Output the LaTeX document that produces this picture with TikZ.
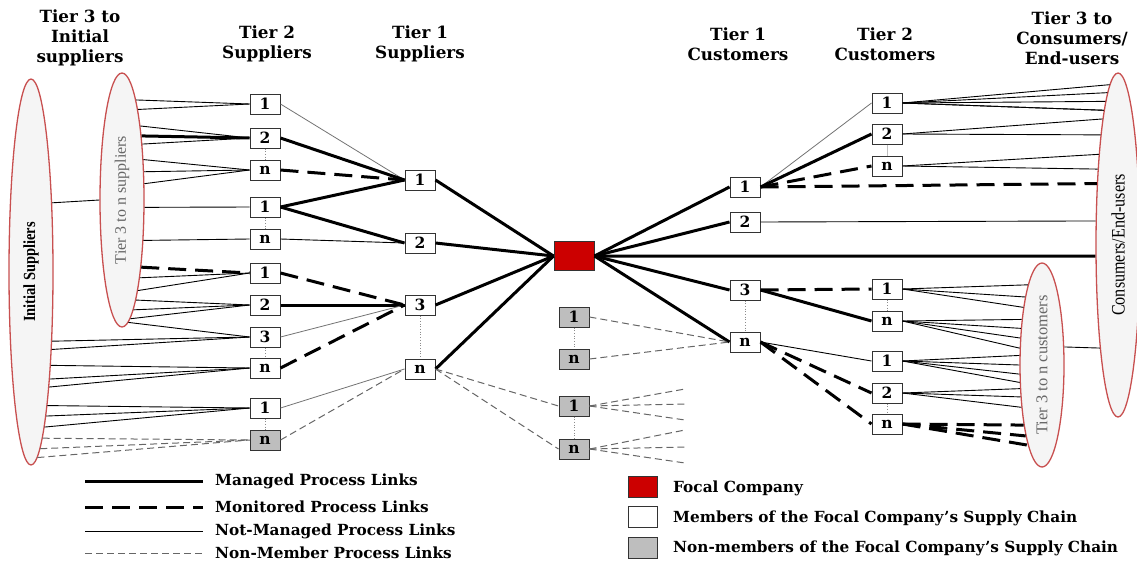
\documentclass[tikz,border=0pt]{standalone}
\usepackage{fontspec}
\setmainfont{DejaVu Serif}
\newfontfamily\ellfont{Liberation Serif}
\newfontfamily\narrowfont[FakeStretch=0.85]{Liberation Serif}
\usepackage{tikz}
\usetikzlibrary{shapes,arrows,calc,positioning}
\definecolor{focalred}{RGB}{204,0,0}
\definecolor{chainred}{RGB}{200,80,80}
\definecolor{nongray}{RGB}{190,190,190}
\tikzstyle{member}=[rectangle,draw=black!80,fill=white,line width=1pt,minimum width=30pt,minimum height=20pt,inner sep=0pt,font=\fontsize{15.5}{15.5}\selectfont\bfseries]
\tikzstyle{nonmember}=[member,fill=nongray]
\tikzstyle{focalbox}=[rectangle,draw=black!80,fill=focalred,line width=1pt,minimum width=40pt,minimum height=29pt]
\tikzstyle{chainell}=[ellipse,draw=chainred,line width=1.3pt,fill=black!4,minimum width=44pt,inner sep=0pt]
\tikzstyle{managed}=[line width=3pt]
\tikzstyle{monitored}=[line width=3pt,dash pattern=on 18pt off 9pt]
\tikzstyle{notmanaged}=[line width=0.9pt]
\tikzstyle{faint}=[line width=0.8pt,black!55]
\tikzstyle{nonlink}=[line width=1pt,black!60,dash pattern=on 7pt off 4pt]
\tikzstyle{tierdots}=[black!45,line width=0.7pt,dotted]
\tikzstyle{header}=[align=center,font=\fontsize{16.8}{19.8}\selectfont\bfseries]
\tikzstyle{legendtext}=[anchor=west,inner sep=0pt,font=\fontsize{15.3}{16}\selectfont\bfseries]

\begin{document}
\begin{tikzpicture}[x=1pt,y=-1pt]
  \useasboundingbox (0,0) rectangle (1137,563);

  \node[header] (hinit) at (80,38) {Tier 3 to\\Initial\\suppliers};
  \node[header] (hsup2) at (267,44) {Tier 2\\Suppliers};
  \node[header] (hsup1) at (420,44) {Tier 1\\Suppliers};
  \node[header] (hcus1) at (738,44) {Tier 1\\Customers};
  \node[header] (hcus2) at (885,44) {Tier 2\\Customers};
  \node[header] (hcons) at (1072,38) {Tier 3 to\\Consumers/\\End-users};

  \node[chainell,minimum height=386pt] (init) at (31,272) {};
  \node[rotate=90,font=\narrowfont\fontsize{17}{17}\selectfont\bfseries] (inittxt) at (init) {Initial Suppliers};
  \node[chainell,minimum height=254pt] (tiersup) at (122,200) {};
  \node[rotate=90,text=black!60,font=\ellfont\fontsize{16}{16}\selectfont] (tiersuptxt) at (tiersup) {Tier 3 to n suppliers};
  \node[chainell,minimum height=344pt] (cons) at (1118,245) {};
  \node[rotate=90,font=\narrowfont\fontsize{19}{19}\selectfont] (constxt) at (cons) {Consumers/End-users};
  \node[chainell,minimum height=204pt] (tiercus) at (1042,365) {};
  \node[rotate=90,text=black!60,font=\ellfont\fontsize{16.5}{16}\selectfont] (tiercustxt) at (tiercus) {Tier 3 to n customers};

  \node[member] (tsa) at (265,104) {1};
  \node[member] (tsb) at (265,138) {2};
  \node[member] (tsc) at (265,170) {n};
  \node[member] (tsd) at (265,207) {1};
  \node[member] (tse) at (265,239) {n};
  \node[member] (tsf) at (265,273) {1};
  \node[member] (tsg) at (265,305) {2};
  \node[member] (tsh) at (265,337) {3};
  \node[member] (tsi) at (265,368) {n};
  \node[member] (tsj) at (265,408) {1};
  \node[nonmember] (tsk) at (265,440) {n};

  \node[member] (fsa) at (420,180) {1};
  \node[member] (fsb) at (420,243) {2};
  \node[member] (fsc) at (420,305) {3};
  \node[member] (fsd) at (420,369) {n};

  \node[focalbox] (focal) at (574,256) {};
  \node[nonmember] (nma) at (574,317) {1};
  \node[nonmember] (nmb) at (574,359) {n};
  \node[nonmember] (nmc) at (574,406) {1};
  \node[nonmember] (nmd) at (574,449) {n};

  \node[member] (fca) at (745,187) {1};
  \node[member] (fcb) at (745,222) {2};
  \node[member] (fcc) at (745,290) {3};
  \node[member] (fcd) at (745,342) {n};

  \node[member] (tca) at (887,103) {1};
  \node[member] (tcb) at (887,134) {2};
  \node[member] (tcc) at (887,166) {n};
  \node[member] (tcd) at (887,289) {1};
  \node[member] (tce) at (887,321) {n};
  \node[member] (tcf) at (887,361) {1};
  \node[member] (tcg) at (887,393) {2};
  \node[member] (tch) at (887,424) {n};

  \coordinate (ea) at (685,389);
  \coordinate (eb) at (685,404);
  \coordinate (ec) at (685,420);
  \coordinate (ed) at (685,430);
  \coordinate (ee) at (685,447);
  \coordinate (ef) at (685,463);

  \draw[tierdots] (tsb.south) -- (tsc.north);
  \draw[tierdots] (tsd.south) -- (tse.north);
  \draw[tierdots] (tsh.south) -- (tsi.north);
  \draw[tierdots] (tsj.south) -- (tsk.north);
  \draw[tierdots] (fsc.south) -- (fsd.north);
  \draw[tierdots] (nma.south) -- (nmb.north);
  \draw[tierdots] (nmc.south) -- (nmd.north);
  \draw[tierdots] (fcc.south) -- (fcd.north);
  \draw[tierdots,solid,black!25] (tcb.south) -- (tcc.north);
  \draw[tierdots] (tcd.south) -- (tce.north);
  \draw[tierdots] (tcg.south) -- (tch.north);

  \draw[notmanaged] (init.73.9) -- (tiersup.west);
  \draw[notmanaged] (tiercus.39.7) -- (cons.260.2);

  \foreach \a in {82.5,80} \draw[notmanaged] (tiersup.\a) -- (tsa.west);
  \foreach \a in {76.4,70.2} \draw[notmanaged] (tiersup.\a) -- (tsb.west);
  \draw[managed] (tiersup.73.1) -- (tsb.west);
  \foreach \a in {62.4,52.5,36.3} \draw[notmanaged] (tiersup.\a) -- (tsc.west);
  \draw[notmanaged] (tiersup.342.3) -- (tsd.west);
  \draw[notmanaged] (tiersup.298.9) -- (tse.west);
  \draw[monitored] (tiersup.286.9) -- (tsf.west);
  \foreach \a in {283.4,280.7} \draw[notmanaged] (tiersup.\a) -- (tsf.west);
  \foreach \a in {278.9,276.5,274.2} \draw[notmanaged] (tiersup.\a) -- (tsg.west);
  \draw[notmanaged] (tiersup.273) -- (tsh.west);
  \foreach \a in {287.4,285.1} \draw[notmanaged] (init.\a) -- (tsh.west);
  \foreach \a in {282.7,280.9,279.5} \draw[notmanaged] (init.\a) -- (tsi.west);
  \foreach \a in {277.5,276.4,275.4} \draw[notmanaged] (init.\a) -- (tsj.west);
  \foreach \a in {274,273.4,272.3} \draw[nonlink] (init.\a) -- (tsk.west);

  \draw[faint] (tsa.east) -- (fsa.west);
  \draw[managed] (tsb.east) -- (fsa.west);
  \draw[monitored] (tsc.east) -- (fsa.west);
  \draw[managed] (tsd.east) -- (fsa.west);
  \draw[managed] (tsd.east) -- (fsb.west);
  \draw[notmanaged] (tse.east) -- (fsb.west);
  \draw[monitored] (tsf.east) -- (fsc.west);
  \draw[managed] (tsg.east) -- (fsc.west);
  \draw[faint] (tsh.east) -- (fsc.west);
  \draw[monitored] (tsi.east) -- (fsc.west);
  \draw[faint] (tsj.east) -- (fsd.west);
  \draw[nonlink] (tsk.east) -- (fsd.west);

  \foreach \s in {fsa,fsb,fsc,fsd} \draw[managed] (\s.east) -- (focal.west);
  \foreach \c in {fca,fcb,fcc,fcd} \draw[managed] (focal.east) -- (\c.west);
  \draw[managed] (focal.east) -- (cons.206.6);

  \draw[nonlink] (fsd.east) -- (nmc.west);
  \draw[nonlink] (fsd.east) -- (nmd.west);
  \draw[nonlink] (nma.east) -- (fcd.west);
  \draw[nonlink] (nmb.east) -- (fcd.west);
  \foreach \e in {ea,eb,ec} \draw[nonlink] (nmc.east) -- (\e);
  \foreach \e in {ed,ee,ef} \draw[nonlink] (nmd.east) -- (\e);

  \draw[faint] (fca.east) -- (tca.west);
  \draw[managed] (fca.east) -- (tcb.west);
  \draw[monitored] (fca.east) -- (tcc.west);
  \draw[monitored] (fca.east) -- (cons.109.6);
  \draw[notmanaged] (fcb.east) -- (cons.133.5);
  \draw[monitored] (fcc.east) -- (tcd.west);
  \draw[managed] (fcc.east) -- (tce.west);
  \draw[notmanaged] (fcd.east) -- (tcf.west);
  \draw[monitored] (fcd.east) -- (tcg.west);
  \draw[monitored] (fcd.east) -- (tch.west);

  \foreach \a in {93.4,94.3,95.2,96.0,96.9} \draw[notmanaged] (tca.east) -- (cons.\a);
  \foreach \a in {97.8,99.8} \draw[notmanaged] (tcb.east) -- (cons.\a);
  \foreach \a in {102.9,105.7} \draw[notmanaged] (tcc.east) -- (cons.\a);
  \foreach \a in {100.6,104.7,108.2} \draw[notmanaged] (tcd.east) -- (tiercus.\a);
  \foreach \a in {114.2,120.6,129.3,143.6} \draw[notmanaged] (tce.east) -- (tiercus.\a);
  \foreach \a in {157.7,180,202.3,218.1} \draw[notmanaged] (tcf.east) -- (tiercus.\a);
  \foreach \a in {227.1,236.9,244.5} \draw[notmanaged] (tcg.east) -- (tiercus.\a);
  \foreach \a in {253.9,257.1,260.4} \draw[monitored] (tch.east) -- (tiercus.\a);

  \node[legendtext] (lgman) at (215,481) {Managed Process Links};
  \node[legendtext] (lgmon) at (215,507) {Monitored Process Links};
  \node[legendtext] (lgnot) at (215,531) {Not-Managed Process Links};
  \node[legendtext] (lgnon) at (215,553) {Non-Member Process Links};
  \draw[managed] ([xshift=-130pt]lgman.west) -- ([xshift=-12pt]lgman.west);
  \draw[monitored] ([xshift=-130pt]lgmon.west) -- ([xshift=-12pt]lgmon.west);
  \draw[notmanaged] ([xshift=-130pt]lgnot.west) -- ([xshift=-12pt]lgnot.west);
  \draw[nonlink] ([xshift=-130pt]lgnon.west) -- ([xshift=-12pt]lgnon.west);

  \node[focalbox,minimum width=29pt,minimum height=21pt] (kfocal) at (643,487) {};
  \node[member,minimum width=29pt,minimum height=21pt] (kmember) at (643,517) {};
  \node[nonmember,minimum width=29pt,minimum height=21pt] (knon) at (643,548) {};
  \node[legendtext] (lgfocal) at (673,488) {Focal Company};
  \node[legendtext] (lgmember) at (673,518) {Members of the Focal Company's Supply Chain};
  \node[legendtext] (lgnonmem) at (673,548) {Non-members of the Focal Company's Supply Chain};
\end{tikzpicture}
\end{document}
